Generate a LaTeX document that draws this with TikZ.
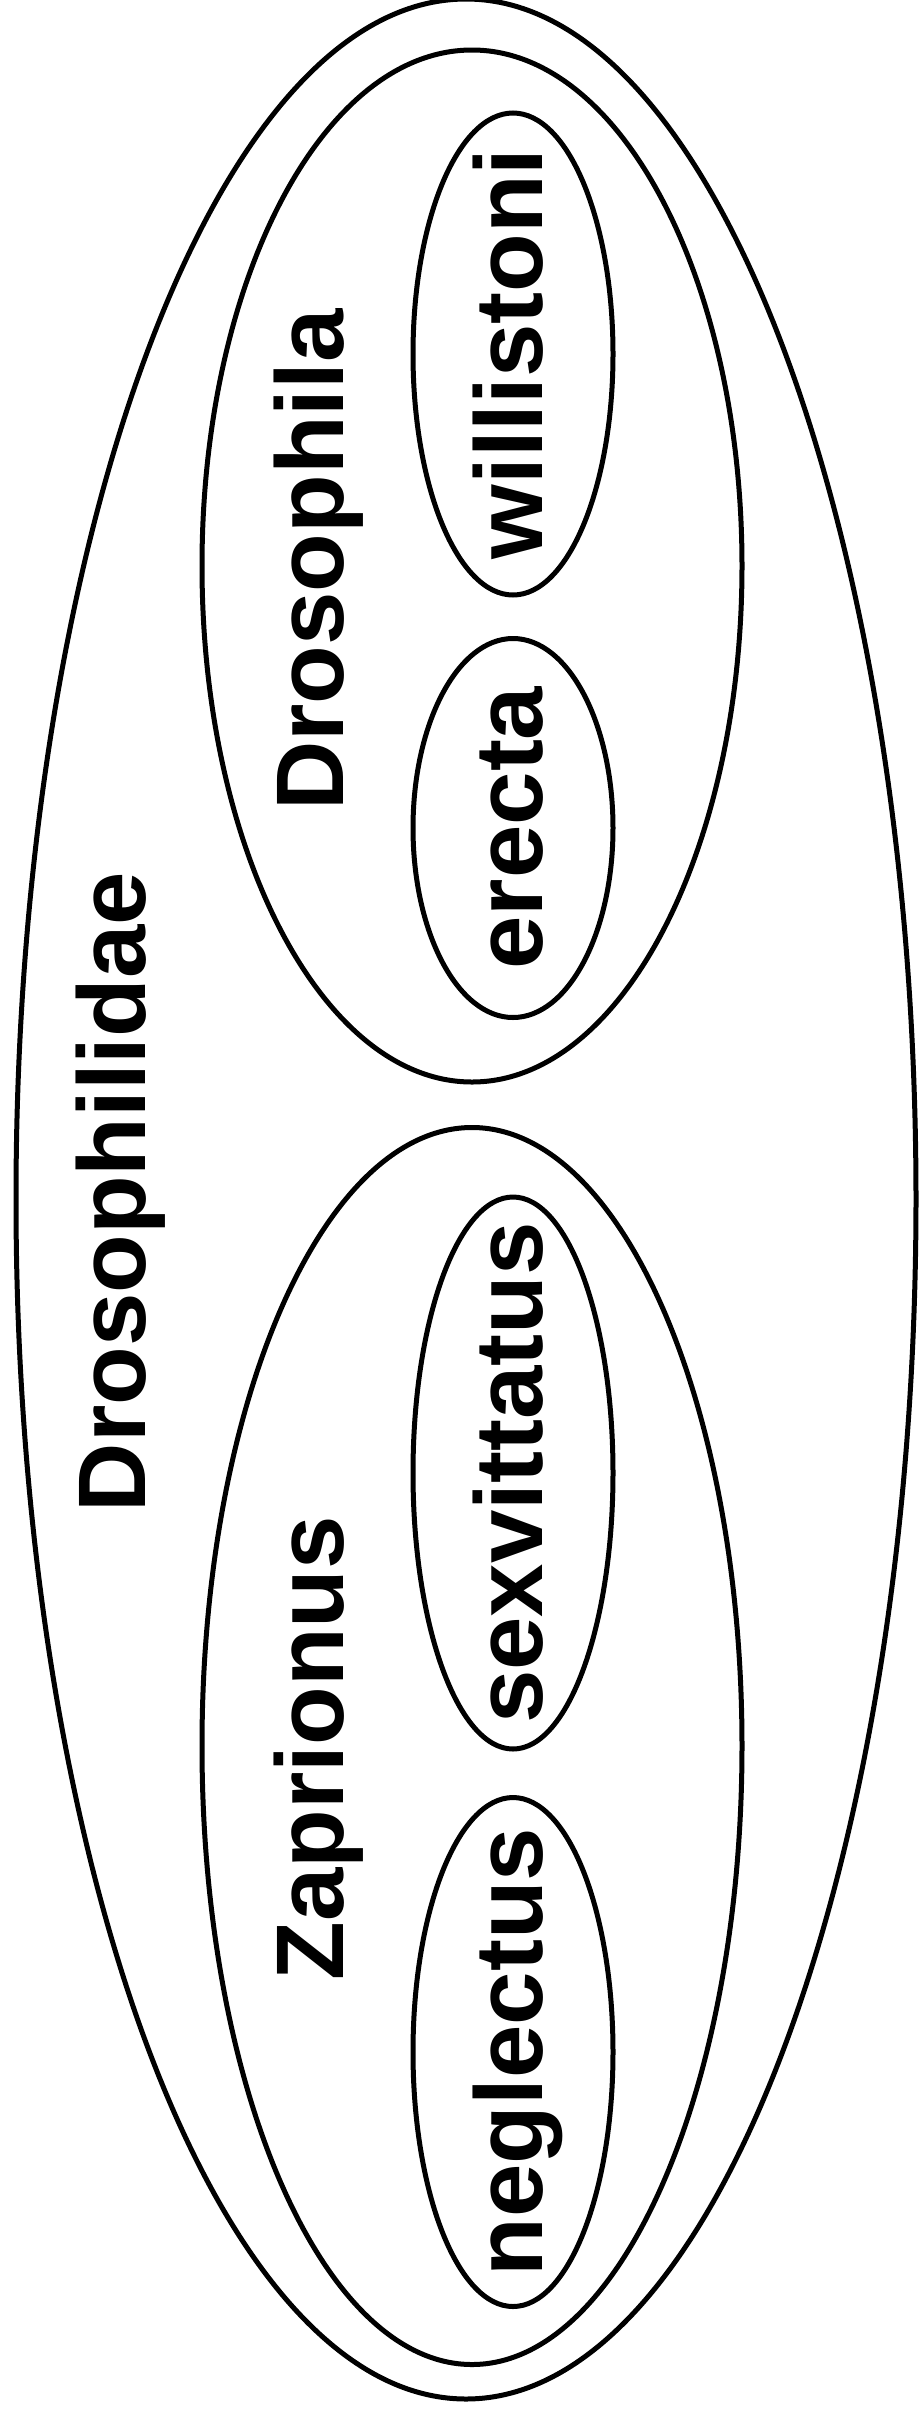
\documentclass[tikz,border=0pt]{standalone}
\usepackage{fontspec}
\setmainfont{Liberation Sans}
\usetikzlibrary{shapes.geometric}
\begin{document}
\begin{tikzpicture}[x=1pt, y=-1pt]
        \tikzstyle{clade}=[draw, ellipse, line width=5pt, inner sep=0pt];
        \tikzstyle{taxon}=[rotate=90, anchor=base, inner sep=0pt, font=\fontsize{96}{110}\selectfont\bfseries];

        \useasboundingbox (0,0) rectangle (919,2415);

        % family, genera, species
        \node[clade, minimum width=900pt, minimum height=2400pt] (family) at (466,1199) {};
        \node[clade, minimum width=540pt, minimum height=1032pt] (drosophila) at (472,566) {};
        \node[clade, minimum width=540pt, minimum height=1237pt] (zaprionus) at (472,1746) {};
        \node[clade, minimum width=200pt, minimum height=482pt] (williston) at (513,354) {};
        \node[clade, minimum width=200pt, minimum height=379pt] (erecta) at (513,828) {};
        \node[clade, minimum width=200pt, minimum height=552pt] (sexvittatus) at (513,1473) {};
        \node[clade, minimum width=200pt, minimum height=509pt] (neglectus) at (513,2052) {};

        \node[taxon] (familylabel) at (145,1192) {Drosophilidae};
        \node[taxon] (drosophilalabel) at (343,560) {Drosophila};
        \node[taxon] (zaprionuslabel) at (343,1748) {Zaprionus};
        \node[taxon] (willistonlabel) at ([xshift=29pt]williston.center) {willistoni};
        \node[taxon] (erectalabel) at ([xshift=29pt]erecta.center) {erecta};
        \node[taxon] (sexvittatuslabel) at ([xshift=29pt]sexvittatus.center) {sexvittatus};
        \node[taxon] (neglectuslabel) at ([xshift=29pt]neglectus.center) {neglectus};
    \end{tikzpicture}
\end{document}
